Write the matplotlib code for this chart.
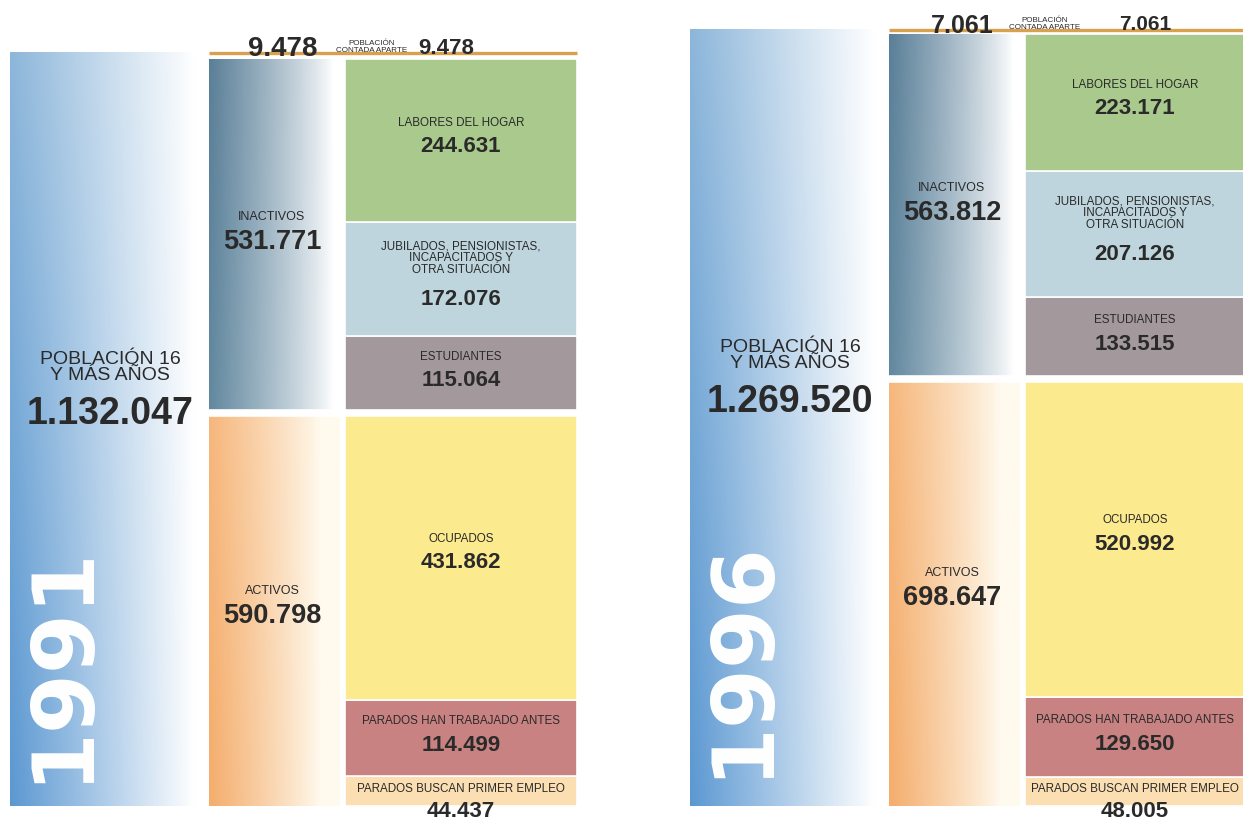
'''
Población de 16 y más años según relación con la actividad, 1991 y 1996
'''
import numpy as np
from matplotlib import pyplot as plt
from matplotlib.colors import to_rgb

plt.rcParams['font.family'] = ['Liberation Sans', 'DejaVu Sans']

# datos
years = ['1991', '1996']
total = [1132047, 1269520]
contada = [9478, 7061]
inactivos = [531771, 563812]
activos = [590798, 698647]
inact_names = ['LABORES DEL HOGAR',
               'JUBILADOS, PENSIONISTAS,\nINCAPACITADOS Y\nOTRA SITUACIÓN',
               'ESTUDIANTES']
inact_vals = [[244631, 172076, 115064], [223171, 207126, 133515]]
inact_colors = ['#a9c98d', '#bed5dd', '#a3999c']
act_names = ['OCUPADOS', 'PARADOS HAN TRABAJADO ANTES', 'PARADOS BUSCAN PRIMER EMPLEO']
act_vals = [[431862, 114499, 44437], [520992, 129650, 48005]]
act_colors = ['#fcea8e', '#c98282', '#fbdfb2']

# maqueta (pixeles)
W, H = 1243, 821
BASE = 806
panels = [
    dict(x0=0, top=53, right_w=232, txt_r=116, cont=(283, 372, 446), cont_fs=(20, 16)),
    dict(x0=680, top=30, right_w=230, txt_r=110, cont=(282, 365, 465), cont_fs=(18, 15)),
]
# desplazamiento (px hacia arriba) de nombre y cifra respecto al centro del bloque
inact_off = [(18, -6), (21, -20), (18, -6)]
act_off = [(18, -6), (17, -7), (2, -20)]
TXT = '#2a2a2a'
ORANGE = '#d9a04e'


def fmt(v):
    return f'{v:,}'.replace(',', '.')


def gradient(ax, x0, x1, y0, y1, c_bot, c_top, c_right, fade, power=1.0):
    nx, ny = 200, 100
    xs = np.linspace(0, 1, nx)
    ys = np.linspace(0, 1, ny)[:, None, None]
    w = np.clip(1 - xs / fade, 0, 1) ** power
    left = np.array(to_rgb(c_bot)) * (1 - ys) + np.array(to_rgb(c_top)) * ys
    right = np.array(to_rgb(c_right))
    img = left * w[None, :, None] + right * (1 - w[None, :, None])
    ax.imshow(img, extent=(x0, x1, y0, y1), aspect='auto', origin='lower',
              interpolation='bilinear', zorder=1)


fig = plt.figure(figsize=(W / 100, H / 100), dpi=100)
fig.patch.set_facecolor('white')

for i, p in enumerate(panels):
    s = (BASE - p['top']) / total[i]  # px por persona
    px = lambda d: d / s
    ax = fig.add_axes([0, 0, 1, 1])
    ax.set_xlim(0, W)
    ax.set_ylim(-(H - BASE) / s, BASE / s)
    ax.axis('off')
    ax.patch.set_alpha(0)

    x0 = p['x0']
    big = (x0 + 10, x0 + 205)
    mid = (x0 + 209, x0 + 340)
    rgt = (x0 + 345, x0 + 345 + p['right_w'])
    top_i = activos[i] + inactivos[i]

    # columna total
    gradient(ax, big[0], big[1], 0, total[i], '#5b98d2', '#8cb6da', 'white', 0.95, 1.0)
    # activos / inactivos
    gradient(ax, mid[0], mid[1], 0, activos[i], '#f4ad6c', '#f6b77c', '#fffaee', 0.85, 0.9)
    gradient(ax, mid[0], mid[1], activos[i], top_i, '#62889f', '#5a7f98', 'white', 0.95, 0.85)

    # bloques de la derecha
    bottom = 0
    blocks = list(zip(act_names, act_vals[i], act_colors, act_off))[::-1] + \
        list(zip(inact_names, inact_vals[i], inact_colors, inact_off))[::-1]
    for name, v, c, off in blocks:
        ax.bar(rgt[0], v, bottom=bottom, width=rgt[1] - rgt[0], align='edge',
               color=c, edgecolor='white', linewidth=1.2, zorder=2)
        cy = bottom + v / 2
        cx = rgt[0] + p['txt_r']
        ax.text(cx, cy + px(off[0]), name, ha='center', va='center', fontsize=8.4,
                color=TXT, zorder=5, linespacing=1.0)
        ax.text(cx, cy + px(off[1]), fmt(v), ha='center', va='center', fontsize=16,
                fontweight='bold', color=TXT, zorder=5, clip_on=False)
        bottom += v

    # separación entre activos e inactivos
    ax.hlines(activos[i], mid[0] - 1, rgt[1] + 1, color='white', lw=5.5, zorder=3)

    # población contada aparte
    ly = top_i + contada[i]
    ax.hlines(ly, mid[0], rgt[1], color=ORANGE, lw=2.4, zorder=3)
    cx1, cx2, cx3 = (x0 + c for c in p['cont'])
    ax.text(cx1, ly + px(4), fmt(contada[i]), ha='center', va='center',
            fontsize=p['cont_fs'][0], fontweight='bold', color=TXT, zorder=6)
    ax.text(cx2, ly + px(6), 'POBLACIÓN\nCONTADA APARTE', ha='center', va='center',
            fontsize=5.8, color=TXT, zorder=6, linespacing=0.95)
    ax.text(cx3, ly + px(5), fmt(contada[i]), ha='center', va='center',
            fontsize=p['cont_fs'][1], fontweight='bold', color=TXT, zorder=6)

    # textos de activos / inactivos
    mx = mid[0] + 63
    for v, b, name in [(inactivos[i], activos[i], 'INACTIVOS'), (activos[i], 0, 'ACTIVOS')]:
        cy = b + v / 2
        ax.text(mx, cy + px(19), name, ha='center', va='center', fontsize=9,
                color=TXT, zorder=5)
        ax.text(mx, cy - px(6), fmt(v), ha='center', va='center', fontsize=19.5,
                fontweight='bold', color=TXT, zorder=5)

    # total
    ty = total[i] * 0.52
    bx = big[0] + 100
    ax.text(bx, ty + px(47), 'POBLACIÓN 16\nY MÁS AÑOS', ha='center', va='center',
            fontsize=14, color=TXT, zorder=5, linespacing=0.9)
    ax.text(bx, ty, fmt(total[i]), ha='center', va='center', fontsize=27,
            fontweight='bold', color=TXT, zorder=5)
    ax.text(big[0] + 52, total[i] * 0.19, years[i], rotation=90, ha='center', va='center',
            fontsize=62, fontweight='bold', color='white', family='DejaVu Sans', zorder=5)

fig.savefig('out.png', dpi=100, facecolor='white')
